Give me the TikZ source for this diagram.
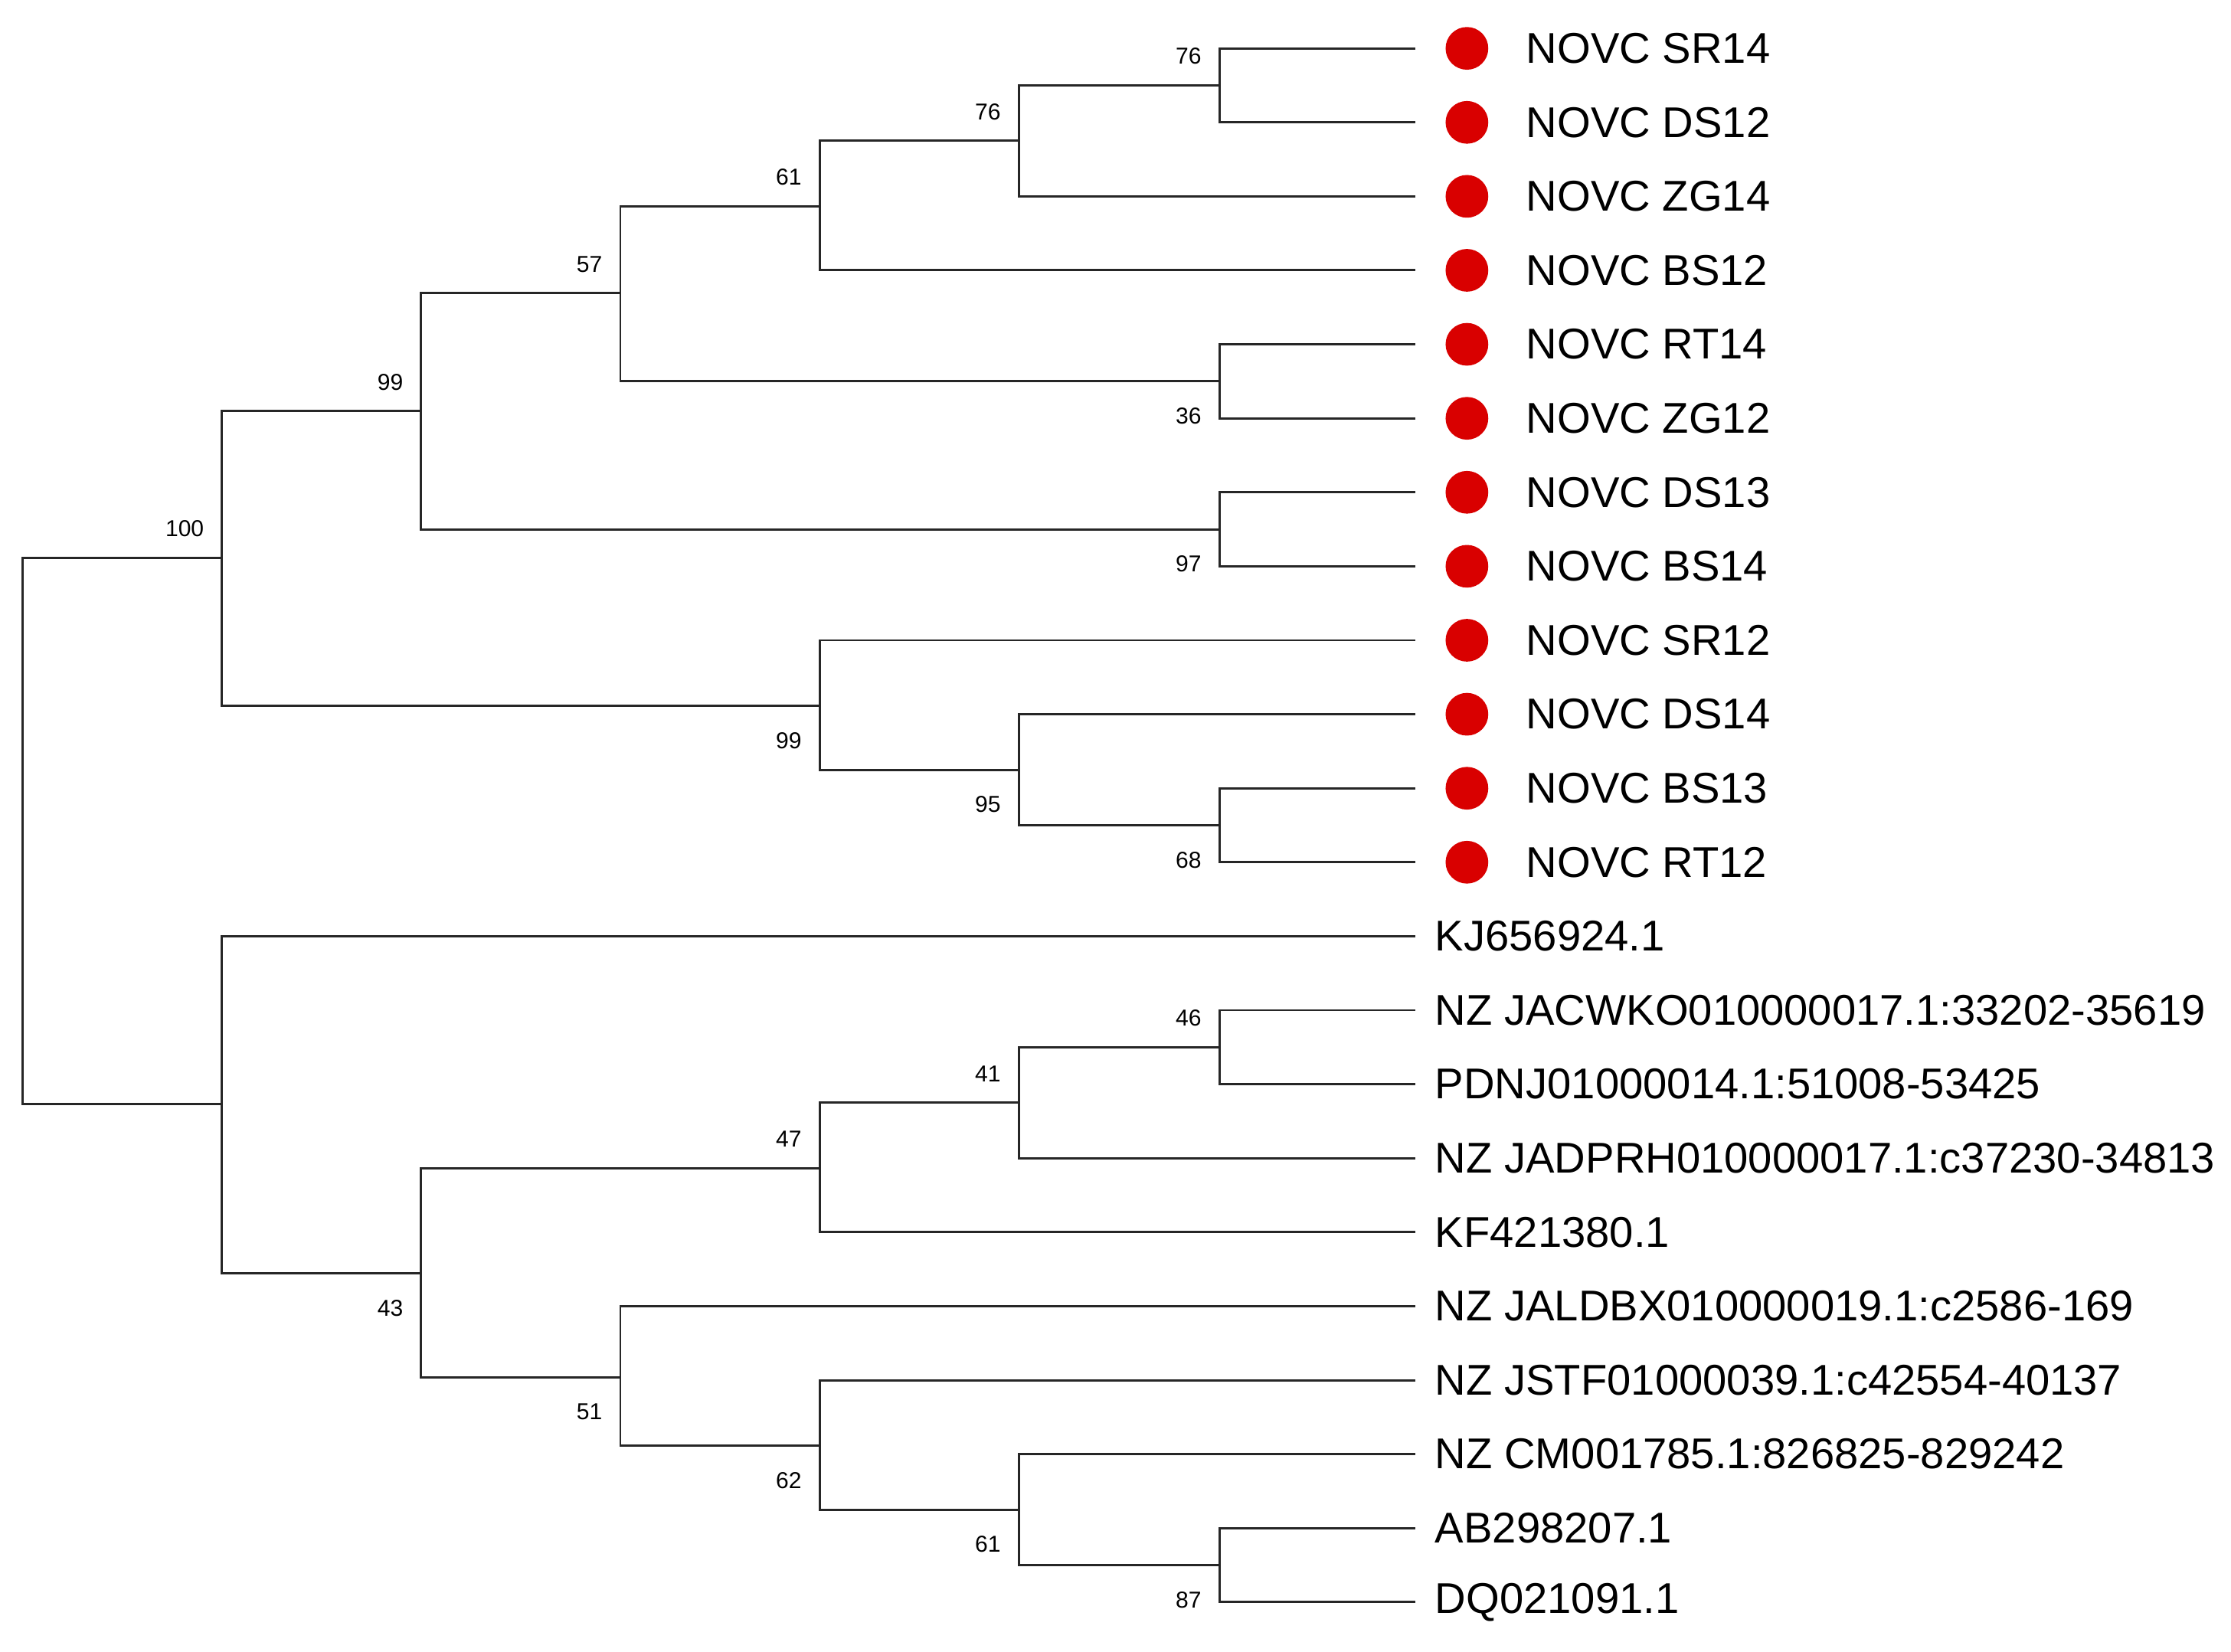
\documentclass[tikz,border=0pt]{standalone}
\usepackage{fontspec}
\setmainfont{Liberation Sans}
\begin{document}
\begin{tikzpicture}[
        x=0.01cm, y=-0.01cm,
        branch/.style={draw=black!85, line width=0.45pt},
        leaf/.style={anchor=west, inner sep=0pt, font=\fontsize{8.6}{9}\selectfont},
        boot/.style={inner sep=0pt, font=\fontsize{4.6}{5}\selectfont},
        dot/.style={circle, fill=red!85!black, draw=none, minimum size=0.3cm, inner sep=0pt}
    ]
        \useasboundingbox (0,0) rectangle (1568,1161);

        % Leaf tips (end of branches)
        \foreach \i/\y in {1/34,2/86,3/138,4/190,5/242,6/294,7/346,8/398,9/450,10/502,11/554,
                           12/606,13/658,14/710,15/762,16/814,17/866,18/918,19/970,20/1022,21/1074,22/1126}
            \coordinate (l\i) at (995,\y);

        % Study isolates
        \foreach \i/\txt in {1/SR14,2/DS12,3/ZG14,4/BS12,5/RT14,6/ZG12,7/DS13,8/BS14,9/SR12,10/DS14,11/BS13,12/RT12}{
            \node[dot] (d\i) at ([shift={(36,0)}]l\i) {};
            \node[leaf] (t\i) at ([shift={(77,0)}]l\i) {NOVC \txt};
        }

        % Reference sequences
        \foreach \i/\txt in {13/KJ656924.1,14/NZ JACWKO010000017.1:33202-35619,15/PDNJ01000014.1:51008-53425,
                             16/NZ JADPRH010000017.1:c37230-34813,17/KF421380.1,18/NZ JALDBX010000019.1:c2586-169,
                             19/NZ JSTF01000039.1:c42554-40137,20/NZ CM001785.1:826825-829242,21/AB298207.1,22/DQ021091.1}
            \node[leaf] (t\i) at ([shift={(13,0)}]l\i) {\txt};

        % Internal nodes
        \coordinate (root) at (16,584);
        \coordinate (n100) at (156,392);
        \coordinate (n99a) at (296,289);
        \coordinate (n57) at (436,206);
        \coordinate (n61) at (576,145);
        \coordinate (n76b) at (716,99);
        \coordinate (n76a) at (857,60);
        \coordinate (n36) at (857,268);
        \coordinate (n97) at (857,372);
        \coordinate (n99b) at (576,496);
        \coordinate (n95) at (716,541);
        \coordinate (n68) at (857,580);
        \coordinate (low) at (156,776);
        \coordinate (n43) at (296,895);
        \coordinate (n47) at (576,821);
        \coordinate (n41) at (716,775);
        \coordinate (n46) at (857,736);
        \coordinate (n51) at (436,968);
        \coordinate (n62) at (576,1016);
        \coordinate (n61b) at (716,1061);
        \coordinate (n87) at (857,1100);

        % Branches
        \foreach \p/\c in {root/n100,root/low,n100/n99a,n100/n99b,n99a/n57,n99a/n97,n57/n61,n57/n36,
                           n61/n76b,n61/l4,n76b/n76a,n76b/l3,n76a/l1,n76a/l2,n36/l5,n36/l6,n97/l7,n97/l8,
                           n99b/l9,n99b/n95,n95/l10,n95/n68,n68/l11,n68/l12,low/l13,low/n43,n43/n47,n43/n51,
                           n47/n41,n47/l17,n41/n46,n41/l16,n46/l14,n46/l15,n51/l18,n51/n62,n62/l19,n62/n61b,
                           n61b/l20,n61b/n87,n87/l21,n87/l22}
            \draw[branch] (\p) |- (\c);

        % Bootstrap values
        \foreach \n/\v in {n76a/76,n76b/76,n61/61,n57/57,n99a/99,n100/100,n46/46,n41/41,n47/47}
            \node[boot, anchor=south east] at ([shift={(-12,-14)}]\n) {\v};
        \foreach \n/\v in {n36/36,n97/97,n99b/99,n95/95,n68/68,n43/43,n51/51,n62/62,n61b/61,n87/87}
            \node[boot, anchor=north east] at ([shift={(-12,18)}]\n) {\v};

    \end{tikzpicture}
\end{document}
